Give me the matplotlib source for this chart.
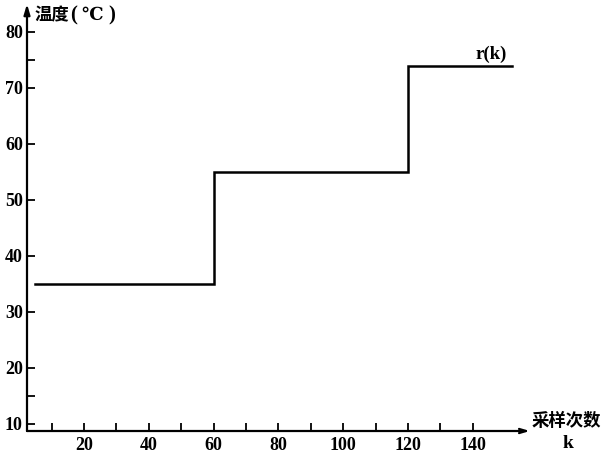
import matplotlib
matplotlib.use("Agg")
import matplotlib.pyplot as plt

# Data: step reference signal r(k)
k_points = [5, 60, 60, 120, 120, 152]
r_values = [35, 35, 55, 55, 74, 74]

x_major = [20, 40, 60, 80, 100, 120, 140]
x_minor = [10, 30, 50, 70, 90, 110, 130]
y_major = [10, 20, 30, 40, 50, 60, 70, 80]
y_minor = [15, 75]

W, H = 611, 457
fig = plt.figure(figsize=(W / 100, H / 100), dpi=100)
left_px, bottom_px = 27, 431
xlim = (2.4, 157.6)
ylim = (8.75, 85)
px_per_k = 3.24
px_per_unit = 5.6
width_px = (xlim[1] - xlim[0]) * px_per_k
height_px = (ylim[1] - ylim[0]) * px_per_unit
ax = fig.add_axes([left_px / W, (H - bottom_px) / H, width_px / W, height_px / H])
ax.set_xlim(*xlim)
ax.set_ylim(*ylim)

ax.plot(k_points, r_values, color="black", lw=1.8, solid_joinstyle="miter")

for s in ax.spines.values():
    s.set_visible(False)

# axes with arrows
ax.annotate("", xy=(0, 1.0), xytext=(0, 0), xycoords="axes fraction",
            arrowprops=dict(arrowstyle="-|>,head_width=0.18,head_length=0.6",
                            color="black", lw=1.6, shrinkA=0, shrinkB=0))
ax.annotate("", xy=(1.0, 0), xytext=(0, 0), xycoords="axes fraction",
            arrowprops=dict(arrowstyle="->,head_width=0.15,head_length=0.5",
                            color="black", lw=1.6, shrinkA=0, shrinkB=0))

serif = ["Liberation Serif", "DejaVu Serif"]
ax.set_xticks(x_major)
ax.set_xticks(x_minor, minor=True)
ax.set_yticks(y_major)
ax.set_yticks(y_minor, minor=True)
ax.tick_params(axis="both", which="both", direction="in", width=1.3,
               length=5.5, pad=4)
ax.tick_params(axis="y", which="major", pad=3)
for lab in ax.get_xticklabels() + ax.get_yticklabels():
    lab.set_fontfamily(serif)
    lab.set_fontsize(13)
    lab.set_fontweight("bold")

cjk = ["Noto Sans CJK SC", "DejaVu Sans"]
ytop = 1 - 15 / H
fig.text(35 / W, ytop, "温度", family=cjk, fontsize=12.5,
         fontweight="bold", va="center", ha="left")
fig.text(74 / W, ytop, "(", family=serif, fontsize=15,
         fontweight="bold", va="center", ha="center")
fig.text(92 / W, ytop, "℃", family=["DejaVu Serif"], fontsize=13,
         fontweight="bold", va="center", ha="center")
fig.text(112 / W, ytop, ")", family=serif, fontsize=15,
         fontweight="bold", va="center", ha="center")
fig.text(566 / W, 1 - 421 / H, "采样次数", family=cjk, fontsize=12.5,
         fontweight="bold", va="center", ha="center")
fig.text(568 / W, 1 - 443 / H, "k", family=serif, fontsize=14,
         fontweight="bold", va="center", ha="center")
fig.text(491 / W, 1 - 54 / H, "r(k)", family=serif, fontsize=13.5,
         fontweight="bold", va="center", ha="center")

fig.savefig("out.png", dpi=100)
